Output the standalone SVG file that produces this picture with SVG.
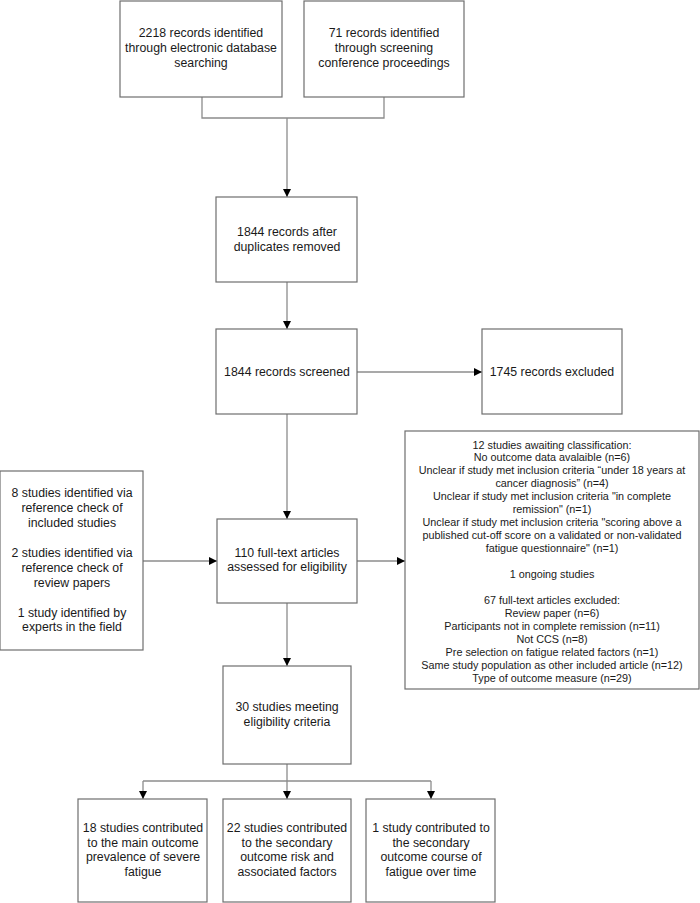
<svg xmlns="http://www.w3.org/2000/svg" width="700" height="903" viewBox="0 0 700 903">
<style>
.box{fill:#fff;stroke:#6e6e6e;stroke-width:1.2}
.t{font-family:"Liberation Sans",Arial,sans-serif;font-size:12.3px;fill:#1a1a1a;text-anchor:middle}
.s{font-family:"Liberation Sans",Arial,sans-serif;font-size:10.8px;fill:#1a1a1a;text-anchor:middle}
.c{fill:none;stroke:#8c8c8c;stroke-width:1.3}
</style>
<defs>
<marker id="ah" viewBox="0 0 10 10" refX="10" refY="5" markerWidth="8" markerHeight="8" markerUnits="userSpaceOnUse" orient="auto">
<path d="M0,0 L10,5 L0,10 z" fill="#000"/>
</marker>
</defs>
<rect width="700" height="903" fill="#fff"/>
<g id="connectors">
<path class="c" d="M202,97 V118 H384 V97"/>
<path class="c" d="M287,118 V197" marker-end="url(#ah)"/>
<path class="c" d="M287,282 V329" marker-end="url(#ah)"/>
<path class="c" d="M357,372 H482" marker-end="url(#ah)"/>
<path class="c" d="M287,414 V519" marker-end="url(#ah)"/>
<path class="c" d="M143,561 H217" marker-end="url(#ah)"/>
<path class="c" d="M357,561 H405" marker-end="url(#ah)"/>
<path class="c" d="M287,603 V666" marker-end="url(#ah)"/>
<path class="c" d="M287,764 V781"/>
<path class="c" d="M143,781 H431"/>
<path class="c" d="M143,781 V799" marker-end="url(#ah)"/>
<path class="c" d="M287,781 V799" marker-end="url(#ah)"/>
<path class="c" d="M431,781 V799" marker-end="url(#ah)"/>
</g>
<g id="n1"><rect class="box" x="120" y="1" width="162" height="96"/>
<text class="t" x="201" y="37">2218 records identified</text>
<text class="t" x="201" y="52">through electronic database</text>
<text class="t" x="201" y="67">searching</text></g>
<g id="n2"><rect class="box" x="304" y="1" width="160" height="96"/>
<text class="t" x="384" y="37">71 records identified</text>
<text class="t" x="384" y="52">through screening</text>
<text class="t" x="384" y="67">conference proceedings</text></g>
<g id="n3"><rect class="box" x="216" y="197" width="141" height="85"/>
<text class="t" x="287" y="236">1844 records after</text>
<text class="t" x="287" y="251">duplicates removed</text></g>
<g id="n4"><rect class="box" x="216" y="329" width="141" height="85"/>
<text class="t" x="287" y="376">1844 records screened</text></g>
<g id="n5"><rect class="box" x="482" y="329" width="140" height="85"/>
<text class="t" x="552" y="376">1745 records excluded</text></g>
<g id="n6"><rect class="box" x="0" y="471" width="143" height="179"/>
<text class="t" x="72" y="497">8 studies identified via</text>
<text class="t" x="72" y="512">reference check of</text>
<text class="t" x="72" y="527">included studies</text>
<text class="t" x="72" y="557">2 studies identified via</text>
<text class="t" x="72" y="572">reference check of</text>
<text class="t" x="72" y="587">review papers</text>
<text class="t" x="72" y="617">1 study identified by</text>
<text class="t" x="72" y="631">experts in the field</text></g>
<g id="n7"><rect class="box" x="217" y="519" width="140" height="84"/>
<text class="t" x="287" y="557">110 full-text articles</text>
<text class="t" x="287" y="571">assessed for eligibility</text></g>
<g id="n8"><rect class="box" x="405" y="431" width="294" height="258"/>
<text class="s" x="552" y="449">12 studies awaiting classification:</text>
<text class="s" x="552" y="461">No outcome data avalaible (n=6)</text>
<text class="s" x="552" y="474">Unclear if study met inclusion criteria “under 18 years at</text>
<text class="s" x="552" y="487">cancer diagnosis” (n=4)</text>
<text class="s" x="552" y="500">Unclear if study met inclusion criteria "in complete</text>
<text class="s" x="552" y="513">remission" (n=1)</text>
<text class="s" x="552" y="526">Unclear if study met inclusion criteria "scoring above a</text>
<text class="s" x="552" y="539">published cut-off score on a validated or non-validated</text>
<text class="s" x="552" y="552">fatigue questionnaire" (n=1)</text>
<text class="s" x="552" y="578">1 ongoing studies</text>
<text class="s" x="552" y="604">67 full-text articles excluded:</text>
<text class="s" x="552" y="617">Review paper (n=6)</text>
<text class="s" x="552" y="630">Participants not in complete remission (n=11)</text>
<text class="s" x="552" y="643">Not CCS (n=8)</text>
<text class="s" x="552" y="656">Pre selection on fatigue related factors (n=1)</text>
<text class="s" x="552" y="669">Same study population as other included article (n=12)</text>
<text class="s" x="552" y="682">Type of outcome measure (n=29)</text></g>
<g id="n9"><rect class="box" x="223" y="666" width="128" height="98"/>
<text class="t" x="287" y="711">30 studies meeting</text>
<text class="t" x="287" y="726">eligibility criteria</text></g>
<g id="n10"><rect class="box" x="78" y="799" width="129" height="103"/>
<text class="t" x="143" y="832">18 studies contributed</text>
<text class="t" x="143" y="847">to the main outcome</text>
<text class="t" x="143" y="861">prevalence of severe</text>
<text class="t" x="143" y="876">fatigue</text></g>
<g id="n11"><rect class="box" x="223" y="799" width="128" height="103"/>
<text class="t" x="287" y="832">22 studies contributed</text>
<text class="t" x="287" y="847">to the secondary</text>
<text class="t" x="287" y="861">outcome risk and</text>
<text class="t" x="287" y="876">associated factors</text></g>
<g id="n12"><rect class="box" x="366" y="799" width="129" height="103"/>
<text class="t" x="431" y="832">1 study contributed to</text>
<text class="t" x="431" y="847">the secondary</text>
<text class="t" x="431" y="861">outcome course of</text>
<text class="t" x="431" y="876">fatigue over time</text></g>
</svg>
